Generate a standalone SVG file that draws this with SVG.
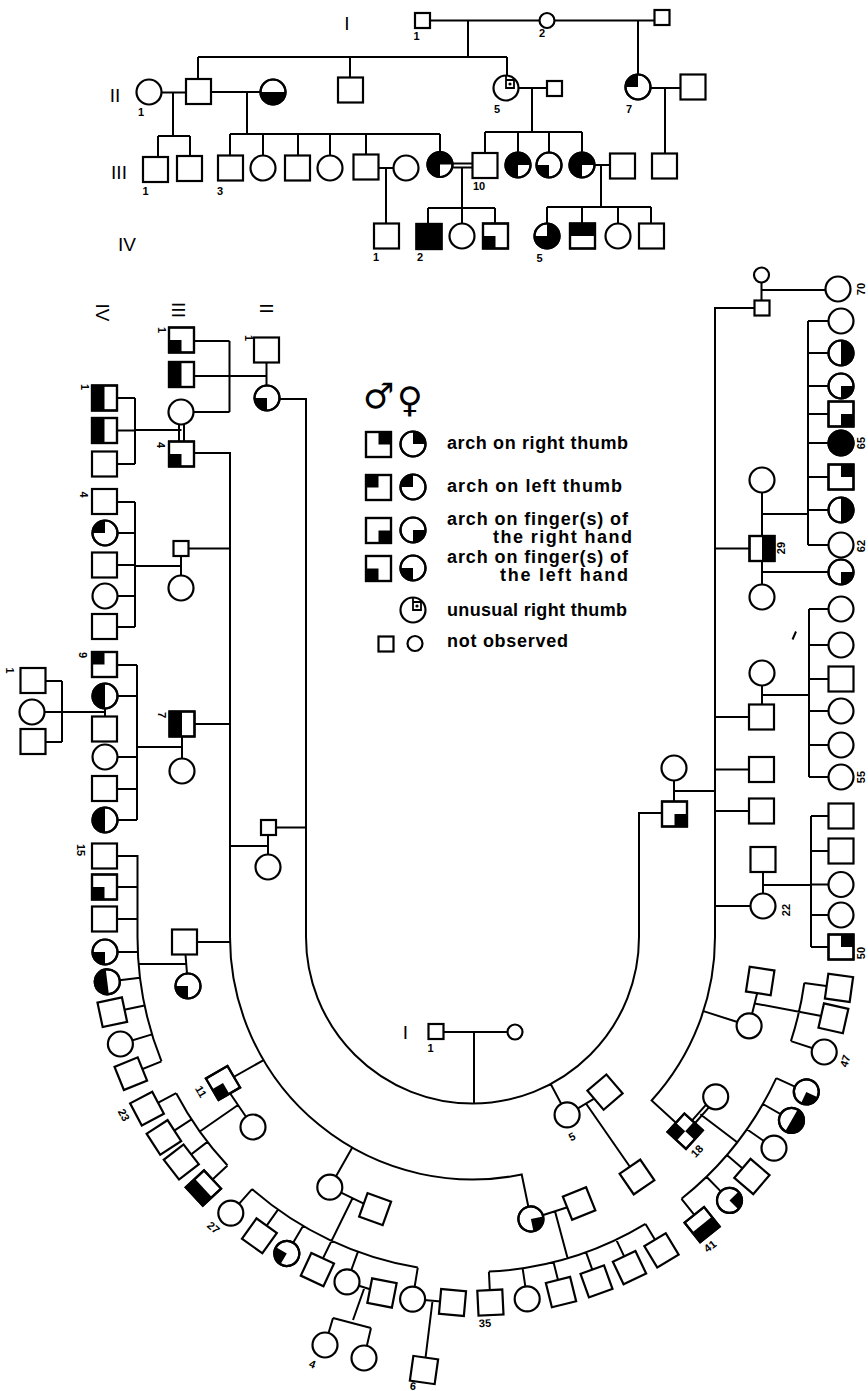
<svg xmlns="http://www.w3.org/2000/svg" width="868" height="1391" viewBox="0 0 868 1391">
<style>
.w{fill:#fff;stroke:#000;stroke-width:2.2}
.o{fill:none;stroke:#000;stroke-width:2.2}
.k{fill:#000;stroke:none}
.ln{fill:none;stroke:#000;stroke-width:2}
.lb{font-family:"Liberation Sans",Arial,sans-serif;font-weight:bold;font-size:11px;text-anchor:middle}
.gl{font-family:"Liberation Sans",Arial,sans-serif;font-size:19px;text-anchor:middle}
.lg{font-family:"Liberation Sans",Arial,sans-serif;font-weight:bold;font-size:18px}
.sx{font-family:"DejaVu Sans",sans-serif;font-size:35px}
</style>
<defs>
<rect id="S0" class="w" x="-12.5" y="-12.5" width="25" height="25"/>
<rect id="So" class="o" x="-12.5" y="-12.5" width="25" height="25"/>
<circle id="C0" class="w" r="12.5"/>
<circle id="Co" class="o" r="12.5"/>
<rect id="s0" class="w" x="-7.5" y="-7.5" width="15" height="15"/>
<circle id="c0" class="w" r="7.5"/>
<g id="S_UL"><use href="#S0"/><path class="k" d="M-12.5,-12.5h12.5v12.5h-12.5z"/><use href="#So"/></g>
<g id="S_UR"><use href="#S0"/><path class="k" d="M0,-12.5h12.5v12.5h-12.5z"/><use href="#So"/></g>
<g id="S_LL"><use href="#S0"/><path class="k" d="M-12.5,0h12.5v12.5h-12.5z"/><use href="#So"/></g>
<g id="S_LR"><use href="#S0"/><path class="k" d="M0,0h12.5v12.5h-12.5z"/><use href="#So"/></g>
<g id="S_L"><use href="#S0"/><path class="k" d="M-12.5,-12.5h12.5v25h-12.5z"/><use href="#So"/></g>
<g id="S_R"><use href="#S0"/><path class="k" d="M0,-12.5h12.5v25h-12.5z"/><use href="#So"/></g>
<g id="S_T"><use href="#S0"/><path class="k" d="M-12.5,-12.5h25v12.5h-25z"/><use href="#So"/></g>
<g id="S_B"><use href="#S0"/><path class="k" d="M-12.5,0h25v12.5h-25z"/><use href="#So"/></g>
<g id="S_X"><use href="#S0"/><path class="k" d="M-12.5,-12.5h12.5v12.5h-12.5zM0,0h12.5v12.5h-12.5z"/><use href="#So"/></g>
<g id="S_K"><use href="#S0"/><path class="k" d="M-12.5,-12.5h25v25h-25z"/><use href="#So"/></g>
<g id="C_UL"><use href="#C0"/><path class="k" d="M0,0H-12.5A12.5,12.5 0 0 1 0,-12.5z"/><use href="#Co"/></g>
<g id="C_UR"><use href="#C0"/><path class="k" d="M0,0V-12.5A12.5,12.5 0 0 1 12.5,0z"/><use href="#Co"/></g>
<g id="C_LR"><use href="#C0"/><path class="k" d="M0,0H12.5A12.5,12.5 0 0 1 0,12.5z"/><use href="#Co"/></g>
<g id="C_LL"><use href="#C0"/><path class="k" d="M0,0V12.5A12.5,12.5 0 0 1 -12.5,0z"/><use href="#Co"/></g>
<g id="C_L"><use href="#C0"/><path class="k" d="M0,-12.5A12.5,12.5 0 0 0 0,12.5z"/><use href="#Co"/></g>
<g id="C_R"><use href="#C0"/><path class="k" d="M0,-12.5A12.5,12.5 0 0 1 0,12.5z"/><use href="#Co"/></g>
<g id="C_B"><use href="#C0"/><path class="k" d="M-12.5,0A12.5,12.5 0 0 0 12.5,0z"/><use href="#Co"/></g>
<g id="C_K"><use href="#C0"/><circle class="k" r="12.5"/><use href="#Co"/></g>
<g id="C_3LR"><use href="#C0"/><path class="k" d="M0,0V12.5A12.5,12.5 0 1 1 12.5,0z"/><use href="#Co"/></g>
<g id="C_3UL"><use href="#C0"/><path class="k" d="M0,0H-12.5A12.5,12.5 0 1 0 0,-12.5z"/><use href="#Co"/></g>
<g id="C_U"><use href="#C0"/><path d="M0,-12.5V0H8V-8H0" fill="none" stroke="#000" stroke-width="1.8"/><circle cx="4" cy="-4" r="1.6" fill="#000"/></g>
</defs>
<rect width="868" height="1391" fill="#fff"/>

<g id="connectors" class="ln">
<path d="M422.5,20.5H662 M468,20.5V57 M198,57H507 M198,57V80 M350,57V78 M507,57V76 M638,20.5V75
M149,92.5H198 M173,92.5V136 M158,136H190 M158,136V157 M190,136V156
M198,92H273 M247,92V134 M230,134H440 M230,134V155 M263,134V156 M298,134V156 M330,134V156 M366,134V155 M440,134V152
M506,88H554 M532,88V132 M485,132H582 M485,132V153 M518,132V153 M549,132V153 M582,132V153
M638,88H693 M665,88V154
M366,168H406 M386,168V224
M453,163.5H473 M453,167.5H473
M462,167.5V208 M428,208H495 M428,208V224 M462,208V224 M495,208V224
M582,165H622 M601,165V207 M547,207H651 M547,207V224 M582,207V224 M618,207V224 M651,207V224"/>
<path d="M267,399H306V937A166.5,166.5 0 0 0 639,937V813H674.5
M436,1032H515 M474,1032V1103.5
M266.5,350V398 M266.5,376H229.5 M229.5,341V412 M181.5,341H229.5 M181.5,376H229.5 M181,412H229.5
M181.5,453H230V937A242.5,242.5 0 0 0 521.7,1174.5L530.9,1219
M685.2,1131.2L651.6,1100.5A242.5,242.5 0 0 0 715,937V308H762
M761.5,275V308 M762,290H838
M179,424V442 M184,424V442 M181.5,430H135 M135,398V464 M104.5,398H135 M104.5,430.5H135 M104.5,464H135
M181,548.5H230 M181,548.5V588 M181,566H135 M135,502V627 M104.5,502H135 M105,533H135 M104.5,565H135 M105,596H135 M104.5,627H135
M182,724H230 M182,724V771 M182,747H137 M137,665V820 M104.5,665H137 M105,696H137 M105,757H137 M104.5,789H137 M105,820H137
M105,696V729 M105,712H32 M62,681V742 M33,681H62 M33,742H62
M268.5,827.5H306 M268,827.5V867 M268,846H230
M184.5,942H230 M184.5,942L188,986 M186,964H139
M104.5,856H137.5V937A335,335 0 0 0 161.5,1061.4
M104.5,887H137.5 M104.5,919H137.5 M105,952H138 M107.3,981.8L140,977.8 M112.3,1012.2L144.6,1005.5 M120.4,1044L152,1034.4 M130.8,1073.7L161.5,1061.4
M263.6,1060.1L223,1083 M223,1083L253,1127 M238,1105L199.8,1131.5
M176.2,1093.2A335,335 0 0 0 227.5,1165.5
M176.2,1093.2L147,1108.6 M191.5,1119.4L163.9,1137.4 M207.4,1141.9L181.3,1162 M227.5,1165.5L203.4,1188
M352.3,1147.6L329.8,1187.2 M329.8,1187.2L375.1,1209.1 M352.5,1198.2L317.4,1269.6
M252.1,1189.1A335,335 0 0 0 417.8,1267.5
M252.1,1189.1L230.8,1213.1 M278,1209.7L259.4,1235.8 M303,1225.9L286.8,1253.5 M357.9,1251.8L347,1281.9 M417.8,1267.5L412.6,1299.1
M347,1282L382,1293 M364.5,1287.5L353,1320 M333,1318L371,1328 M333,1318L325,1345 M371,1328L364,1358
M412.6,1299.1L452.5,1302.5 M432.5,1301L424,1370
M550.7,1084L567.1,1114.9 M567.1,1114.9L605,1092.1 M586,1103.5L637,1177
M530.9,1219L579.1,1203.5 M555,1211.3L567.6,1258.2
M488.9,1271.6A335,335 0 0 0 645.5,1223.9
M488.9,1271.6L490.4,1302.6 M522.6,1268.2L527.2,1298.9 M553.5,1262L561,1292.1 M586,1252.2L596.5,1281.4 M616.2,1239.6L629.5,1267.6 M645.5,1223.9L661.5,1250.4
M694.7,1123.5L708.9,1107.4 M691.7,1120.9L705.9,1104.8
M700.3,1114.2L737.2,1142.3
M681.5,1198.8A335,335 0 0 0 776.3,1078.1
M681.5,1198.8L702.1,1224.6 M706.5,1176.8L729.5,1200.4 M726.9,1155L751.9,1176.5 M746.9,1129.2L774,1148.1 M762.9,1104L791.5,1120.4 M776.3,1078.1L806.3,1091.9
M703.4,1011.1L749.1,1025.8 M749.1,1025.8L760.2,981 M754.7,1003.4L833.4,1018.3
M804.3,983A335,335 0 0 1 790.9,1041.1
M804.3,983L839,987.8 M790.9,1041.1L824.2,1052
M762,480V597 M715,548.5H762
M762,514H808 M808,321V545 M808,321H841 M808,353H841 M808,386H841 M808,414H841 M808,443H841 M808,477H841 M808,510H841 M808,545H841
M762,572H841
M762,673V717 M715,717H762 M762,695H809 M809,609V777 M809,609H841 M809,645H841 M809,679H841 M809,711H841 M809,745H841 M809,777H841
M715,769.5H762 M715,811H762
M715,906H763 M763,859.5V906 M763,885H811 M811,816V947 M811,816H841 M811,851H841 M811,884.5H841 M811,915H841 M811,947H841
M674,768V814 M674,791H715
M792.5,639.5L796,631.5"/>
</g>

<g id="top-nodes">
<g id="t-I1" transform="translate(422.5,20.5)"><use href="#s0"/></g>
<g id="t-I2" transform="translate(547,20.5)"><use href="#c0"/></g>
<g id="t-I3" transform="translate(662,17.5)"><use href="#s0"/></g>
<g id="t-II1" transform="translate(149,92)"><use href="#C0"/></g>
<g id="t-II2" transform="translate(198.5,91.5)"><use href="#S0"/></g>
<g id="t-II3" transform="translate(273,92)"><use href="#C_B"/></g>
<g id="t-II4" transform="translate(350.5,90)"><use href="#S0"/></g>
<g id="t-II5" transform="translate(506,88)"><use href="#C_U"/></g>
<g id="t-II6" transform="translate(554.5,88.5)"><use href="#s0"/></g>
<g id="t-II7" transform="translate(638,87)"><use href="#C_UL"/></g>
<g id="t-II8" transform="translate(693,87)"><use href="#S0"/></g>
<g id="t-III1" transform="translate(155.5,169.5)"><use href="#S0"/></g>
<g id="t-III2" transform="translate(189.5,168.5)"><use href="#S0"/></g>
<g id="t-III3" transform="translate(230.5,168)"><use href="#S0"/></g>
<g id="t-III4" transform="translate(263,168)"><use href="#C0"/></g>
<g id="t-III5" transform="translate(297.5,168)"><use href="#S0"/></g>
<g id="t-III6" transform="translate(330,168)"><use href="#C0"/></g>
<g id="t-III7" transform="translate(366,167)"><use href="#S0"/></g>
<g id="t-III8" transform="translate(406,168)"><use href="#C0"/></g>
<g id="t-III9" transform="translate(440,164.5)"><use href="#C_3LR"/></g>
<g id="t-III10" transform="translate(485,165.5)"><use href="#S0"/></g>
<g id="t-III11" transform="translate(518,165)"><use href="#C_3LR"/></g>
<g id="t-III12" transform="translate(549,165)"><use href="#C_LL"/></g>
<g id="t-III13" transform="translate(582,165)"><use href="#C_3LR"/></g>
<g id="t-III14" transform="translate(622.5,166)"><use href="#S0"/></g>
<g id="t-III15" transform="translate(664.5,166)"><use href="#S0"/></g>
<g id="t-IV1" transform="translate(386.5,236)"><use href="#S0"/></g>
<g id="t-IV2" transform="translate(429,236.5)"><use href="#S_K"/></g>
<g id="t-IV3" transform="translate(462,236)"><use href="#C0"/></g>
<g id="t-IV4" transform="translate(495.5,236)"><use href="#S_LL"/></g>
<g id="t-IV5" transform="translate(547,236)"><use href="#C_3UL"/></g>
<g id="t-IV6" transform="translate(582.5,236)"><use href="#S_T"/></g>
<g id="t-IV7" transform="translate(618,236)"><use href="#C0"/></g>
<g id="t-IV8" transform="translate(651.5,236)"><use href="#S0"/></g>
</g>

<g id="left-arm-nodes">
<g id="a-II1" transform="translate(266.5,350)"><use href="#S0"/></g>
<g id="a-II1w" transform="translate(267,398)"><use href="#C_LL"/></g>
<g id="a-III1" transform="translate(181.5,340)"><use href="#S_LL"/></g>
<g id="a-III2" transform="translate(181.5,374.5)"><use href="#S_L"/></g>
<g id="a-III3" transform="translate(181,412)"><use href="#C0"/></g>
<g id="a-III4" transform="translate(181.5,454)"><use href="#S_LL"/></g>
<g id="a-IV1" transform="translate(104.5,398)"><use href="#S_L"/></g>
<g id="a-IV2" transform="translate(104.5,430.5)"><use href="#S_L"/></g>
<g id="a-IV3" transform="translate(104.5,464)"><use href="#S0"/></g>
<g id="a-III5" transform="translate(181,548.5)"><use href="#s0"/></g>
<g id="a-III5w" transform="translate(181,588)"><use href="#C0"/></g>
<g id="a-IV4" transform="translate(104.5,501.5)"><use href="#S0"/></g>
<g id="a-IV5" transform="translate(105,533)"><use href="#C_UL"/></g>
<g id="a-IV6" transform="translate(104.5,565)"><use href="#S0"/></g>
<g id="a-IV7" transform="translate(105,596)"><use href="#C0"/></g>
<g id="a-IV8" transform="translate(104.5,626.5)"><use href="#S0"/></g>
<g id="a-III7" transform="translate(182,724)"><use href="#S_L"/></g>
<g id="a-III7w" transform="translate(182,771)"><use href="#C0"/></g>
<g id="a-IV9" transform="translate(104.5,664.5)"><use href="#S_UL"/></g>
<g id="a-IV10" transform="translate(105,696)"><use href="#C_L"/></g>
<g id="a-IV10h" transform="translate(104.5,729)"><use href="#S0"/></g>
<g id="a-V1" transform="translate(33,680.5)"><use href="#S0"/></g>
<g id="a-V2" transform="translate(32,712)"><use href="#C0"/></g>
<g id="a-V3" transform="translate(33,741.5)"><use href="#S0"/></g>
<g id="a-IV11" transform="translate(105,757)"><use href="#C0"/></g>
<g id="a-IV12" transform="translate(104.5,788.5)"><use href="#S0"/></g>
<g id="a-IV13" transform="translate(105,820)"><use href="#C_L"/></g>
<g id="a-II2" transform="translate(268.5,827.5)"><use href="#s0"/></g>
<g id="a-II2w" transform="translate(268,867)"><use href="#C0"/></g>
<g id="a-III8" transform="translate(184.5,942)"><use href="#S0"/></g>
<g id="a-III8w" transform="translate(188,986)"><use href="#C_LL"/></g>
<g id="a-IV15" transform="translate(104.5,856)"><use href="#S0"/></g>
<g id="a-IV16" transform="translate(104.5,887)"><use href="#S_LL"/></g>
<g id="a-IV17" transform="translate(104.5,919)"><use href="#S0"/></g>
<g id="a-IV18" transform="translate(105,952)"><use href="#C_LL"/></g>
<g id="a-IV19" transform="translate(107.3,981.8) rotate(83)"><use href="#C_B"/></g>
<g id="a-IV20" transform="translate(112.3,1012.2) rotate(78)"><use href="#S0"/></g>
<g id="a-IV21" transform="translate(120.4,1044)"><use href="#C0"/></g>
<g id="a-IV22" transform="translate(130.8,1073.7) rotate(68)"><use href="#S0"/></g>
</g>

<g id="bottom-nodes">
<g id="b-I1" transform="translate(436,1031.5)"><use href="#s0"/></g>
<g id="b-I2" transform="translate(515,1032)"><use href="#c0"/></g>
<g id="b-III11" transform="translate(223,1083) rotate(59.7)"><use href="#S_LR"/></g>
<g id="b-III11w" transform="translate(253,1127)"><use href="#C0"/></g>
<g id="b-IV23" transform="translate(147,1108.6) rotate(62.2)"><use href="#S0"/></g>
<g id="b-IV24" transform="translate(163.9,1137.4) rotate(57)"><use href="#S0"/></g>
<g id="b-IV25" transform="translate(181.3,1162) rotate(52.3)"><use href="#S0"/></g>
<g id="b-IV26" transform="translate(203.4,1188) rotate(47)"><use href="#S_B"/></g>
<g id="b-III12" transform="translate(329.8,1187.2)"><use href="#C0"/></g>
<g id="b-III12h" transform="translate(375.1,1209.1) rotate(19.7)"><use href="#S0"/></g>
<g id="b-IV27" transform="translate(230.8,1213.1)"><use href="#C0"/></g>
<g id="b-IV28" transform="translate(259.4,1235.8) rotate(35.5)"><use href="#S0"/></g>
<g id="b-IV29" transform="translate(286.8,1253.5) rotate(30.4)"><use href="#C_LL"/></g>
<g id="b-IV30" transform="translate(317.4,1269.6) rotate(25)"><use href="#S0"/></g>
<g id="b-IV31" transform="translate(347,1281.9)"><use href="#C0"/></g>
<g id="b-IV31h" transform="translate(382,1293) rotate(11)"><use href="#S0"/></g>
<g id="b-V4" transform="translate(325,1345)"><use href="#C0"/></g>
<g id="b-V5" transform="translate(364,1358)"><use href="#C0"/></g>
<g id="b-IV32" transform="translate(412.6,1299.1)"><use href="#C0"/></g>
<g id="b-IV32h" transform="translate(452.5,1302.5) rotate(5)"><use href="#S0"/></g>
<g id="b-V6" transform="translate(424,1370) rotate(8)"><use href="#S0"/></g>
<g id="b-II5" transform="translate(567.1,1114.9)"><use href="#C0"/></g>
<g id="b-II5h" transform="translate(605,1092.1) rotate(-40.5)"><use href="#S0"/></g>
<g id="b-III13" transform="translate(637,1177) rotate(-34.4)"><use href="#S0"/></g>
<g id="b-III14" transform="translate(530.9,1219) rotate(-11.7)"><use href="#C_LR"/></g>
<g id="b-III14h" transform="translate(579.1,1203.5) rotate(-21.8)"><use href="#S0"/></g>
<g id="b-IV35" transform="translate(490.4,1302.6) rotate(-2.8)"><use href="#S0"/></g>
<g id="b-IV36" transform="translate(527.2,1298.9)"><use href="#C0"/></g>
<g id="b-IV37" transform="translate(561,1292.1) rotate(-14)"><use href="#S0"/></g>
<g id="b-IV38" transform="translate(596.5,1281.4) rotate(-19.8)"><use href="#S0"/></g>
<g id="b-IV39" transform="translate(629.5,1267.6) rotate(-25.4)"><use href="#S0"/></g>
<g id="b-IV40" transform="translate(661.5,1250.4) rotate(-31.1)"><use href="#S0"/></g>
<g id="b-III18" transform="translate(685.2,1131.2) rotate(-47.6)"><use href="#S_X"/></g>
<g id="b-III18w" transform="translate(715.7,1096.8)"><use href="#C0"/></g>
<g id="b-IV41" transform="translate(702.1,1224.6) rotate(-38.6)"><use href="#S_B"/></g>
<g id="b-IV42" transform="translate(729.5,1200.4) rotate(-44.3)"><use href="#C_LR"/></g>
<g id="b-IV43" transform="translate(751.9,1176.5) rotate(-49.4)"><use href="#S0"/></g>
<g id="b-IV44" transform="translate(774,1148.1)"><use href="#C0"/></g>
<g id="b-IV45" transform="translate(791.5,1120.4) rotate(-60.1)"><use href="#C_B"/></g>
<g id="b-IV46" transform="translate(806.3,1091.9) rotate(-65.1)"><use href="#C_LL"/></g>
<g id="b-III19" transform="translate(749.1,1025.8)"><use href="#C0"/></g>
<g id="b-III19h" transform="translate(760.2,981) rotate(8.7)"><use href="#S0"/></g>
<g id="b-IV47a" transform="translate(839,987.8) rotate(7.9)"><use href="#S0"/></g>
<g id="b-IV47b" transform="translate(833.4,1018.3) rotate(12.7)"><use href="#S0"/></g>
<g id="b-IV47" transform="translate(824.2,1052)"><use href="#C0"/></g>
</g>

<g id="right-arm-nodes">
<g id="c-III0w" transform="translate(761.5,275)"><use href="#c0"/></g>
<g id="c-III0" transform="translate(762,308)"><use href="#s0"/></g>
<g id="c-IV70" transform="translate(838,289)"><use href="#C0"/></g>
<g id="c-IVa" transform="translate(841,321)"><use href="#C0"/></g>
<g id="c-IVb" transform="translate(841,353)"><use href="#C_R"/></g>
<g id="c-IVc" transform="translate(841,386)"><use href="#C_LR"/></g>
<g id="c-IVd" transform="translate(841,414)"><use href="#S_LR"/></g>
<g id="c-IV65" transform="translate(841,443)"><use href="#C_K"/></g>
<g id="c-IVf" transform="translate(841,477)"><use href="#S_UR"/></g>
<g id="c-IVg" transform="translate(841,510)"><use href="#C_R"/></g>
<g id="c-IV62" transform="translate(841,545)"><use href="#C0"/></g>
<g id="c-III29a" transform="translate(762,480)"><use href="#C0"/></g>
<g id="c-III29" transform="translate(762,548.5)"><use href="#S_R"/></g>
<g id="c-III29b" transform="translate(762,597)"><use href="#C0"/></g>
<g id="c-IVh" transform="translate(841,572)"><use href="#C_LR"/></g>
<g id="c-III30w" transform="translate(762,673)"><use href="#C0"/></g>
<g id="c-III30" transform="translate(761.5,717)"><use href="#S0"/></g>
<g id="c-IVi" transform="translate(841,609)"><use href="#C0"/></g>
<g id="c-IVj" transform="translate(841,645)"><use href="#C0"/></g>
<g id="c-IVk" transform="translate(841,679)"><use href="#S0"/></g>
<g id="c-IVl" transform="translate(841,711)"><use href="#C0"/></g>
<g id="c-IVm" transform="translate(841,745)"><use href="#C0"/></g>
<g id="c-IV55" transform="translate(841,777)"><use href="#C0"/></g>
<g id="c-III31" transform="translate(761.5,769.5)"><use href="#S0"/></g>
<g id="c-III32" transform="translate(761.5,811)"><use href="#S0"/></g>
<g id="c-III22h" transform="translate(763,859.5)"><use href="#S0"/></g>
<g id="c-III22" transform="translate(763,906)"><use href="#C0"/></g>
<g id="c-IVn" transform="translate(841,816)"><use href="#S0"/></g>
<g id="c-IVo" transform="translate(841,851)"><use href="#S0"/></g>
<g id="c-IVp" transform="translate(841,884.5)"><use href="#C0"/></g>
<g id="c-IVq" transform="translate(841,915)"><use href="#C0"/></g>
<g id="c-IV50" transform="translate(841,947)"><use href="#S_UR"/></g>
<g id="c-II3w" transform="translate(674,768)"><use href="#C0"/></g>
<g id="c-II3" transform="translate(674.5,814)"><use href="#S_LR"/></g>
</g>

<g id="legend">
<text class="sx" x="363" y="408">♂</text>
<text class="sx" x="397" y="412">♀</text>
<g transform="translate(378.5,444.5)"><use href="#S_UR"/></g>
<g transform="translate(413,444)"><use href="#C_UR"/></g>
<g transform="translate(378.5,487.5)"><use href="#S_UL"/></g>
<g transform="translate(413,487)"><use href="#C_UL"/></g>
<g transform="translate(378.5,530.5)"><use href="#S_LR"/></g>
<g transform="translate(413,530)"><use href="#C_LR"/></g>
<g transform="translate(378.5,568.5)"><use href="#S_LL"/></g>
<g transform="translate(413,568)"><use href="#C_LL"/></g>
<g transform="translate(413,610)"><use href="#C_U"/></g>
<g transform="translate(386,644)"><use href="#s0"/></g>
<g transform="translate(415,643.5)"><use href="#c0"/></g>
<text class="lg" x="447" y="449" textLength="181" lengthAdjust="spacing">arch on right thumb</text>
<text class="lg" x="447" y="492" textLength="175" lengthAdjust="spacing">arch on left thumb</text>
<text class="lg" x="447" y="525" textLength="181" lengthAdjust="spacing">arch on finger(s) of</text>
<text class="lg" x="493" y="543" textLength="139" lengthAdjust="spacing">the right hand</text>
<text class="lg" x="447" y="563" textLength="181" lengthAdjust="spacing">arch on finger(s) of</text>
<text class="lg" x="500" y="581" textLength="128" lengthAdjust="spacing">the left hand</text>
<text class="lg" x="447" y="616" textLength="180" lengthAdjust="spacing">unusual right thumb</text>
<text class="lg" x="447" y="647" textLength="121" lengthAdjust="spacing">not observed</text>
</g>

<g id="labels">
<text class="gl" x="347" y="23.5" dy="0.36em">I</text>
<text class="gl" x="115" y="95" dy="0.36em">II</text>
<text class="gl" x="119" y="172" dy="0.36em">III</text>
<text class="gl" x="127" y="244" dy="0.36em">IV</text>
<text class="gl" x="405.5" y="1032" dy="0.36em">I</text>
<text class="gl" transform="translate(102.5,312.5) rotate(90)" dy="0.36em">IV</text>
<text class="gl" transform="translate(179,310) rotate(90)" dy="0.36em">III</text>
<text class="gl" transform="translate(266.5,308.5) rotate(90)" dy="0.36em">II</text>
<text class="lb" x="416.5" y="36.5" dy="0.36em">1</text>
<text class="lb" x="542" y="33" dy="0.36em">2</text>
<text class="lb" x="141" y="112" dy="0.36em">1</text>
<text class="lb" x="497" y="109" dy="0.36em">5</text>
<text class="lb" x="629" y="109" dy="0.36em">7</text>
<text class="lb" x="145.5" y="191.5" dy="0.36em">1</text>
<text class="lb" x="220" y="191.5" dy="0.36em">3</text>
<text class="lb" x="479" y="186.5" dy="0.36em">10</text>
<text class="lb" x="376" y="257.5" dy="0.36em">1</text>
<text class="lb" x="420" y="257.5" dy="0.36em">2</text>
<text class="lb" x="539.5" y="258" dy="0.36em">5</text>
<text class="lb" x="430.5" y="1048.5" dy="0.36em">1</text>
<text class="lb" transform="translate(248.5,338) rotate(90)" dy="0.36em">1</text>
<text class="lb" transform="translate(161.5,330) rotate(90)" dy="0.36em">1</text>
<text class="lb" transform="translate(160.5,445) rotate(90)" dy="0.36em">4</text>
<text class="lb" transform="translate(85,387) rotate(90)" dy="0.36em">1</text>
<text class="lb" transform="translate(83.5,494.5) rotate(90)" dy="0.36em">4</text>
<text class="lb" transform="translate(82.5,655) rotate(90)" dy="0.36em">9</text>
<text class="lb" transform="translate(161.5,715) rotate(90)" dy="0.36em">7</text>
<text class="lb" transform="translate(10,670.5) rotate(90)" dy="0.36em">1</text>
<text class="lb" transform="translate(81,850) rotate(90)" dy="0.36em">15</text>
<text class="lb" transform="translate(861,289) rotate(-90)" dy="0.36em">70</text>
<text class="lb" transform="translate(861,443) rotate(-90)" dy="0.36em">65</text>
<text class="lb" transform="translate(861,546) rotate(-90)" dy="0.36em">62</text>
<text class="lb" transform="translate(781.5,548) rotate(-90)" dy="0.36em">29</text>
<text class="lb" transform="translate(861,777) rotate(-90)" dy="0.36em">55</text>
<text class="lb" transform="translate(786.5,910) rotate(-90)" dy="0.36em">22</text>
<text class="lb" transform="translate(861,953) rotate(-90)" dy="0.36em">50</text>
<text class="lb" transform="translate(124,1115) rotate(62)" dy="0.36em">23</text>
<text class="lb" transform="translate(201,1091.5) rotate(60)" dy="0.36em">11</text>
<text class="lb" transform="translate(213.5,1227.5) rotate(41)" dy="0.36em">27</text>
<text class="lb" transform="translate(312.5,1364) rotate(20)" dy="0.36em">4</text>
<text class="lb" transform="translate(413,1386) rotate(7)" dy="0.36em">6</text>
<text class="lb" transform="translate(485,1323) rotate(-3)" dy="0.36em">35</text>
<text class="lb" transform="translate(572,1136.5) rotate(-27)" dy="0.36em">5</text>
<text class="lb" transform="translate(697,1151) rotate(-46)" dy="0.36em">18</text>
<text class="lb" transform="translate(710,1246) rotate(-38)" dy="0.36em">41</text>
<text class="lb" transform="translate(845,1061) rotate(-72)" dy="0.36em">47</text>
</g>
</svg>
